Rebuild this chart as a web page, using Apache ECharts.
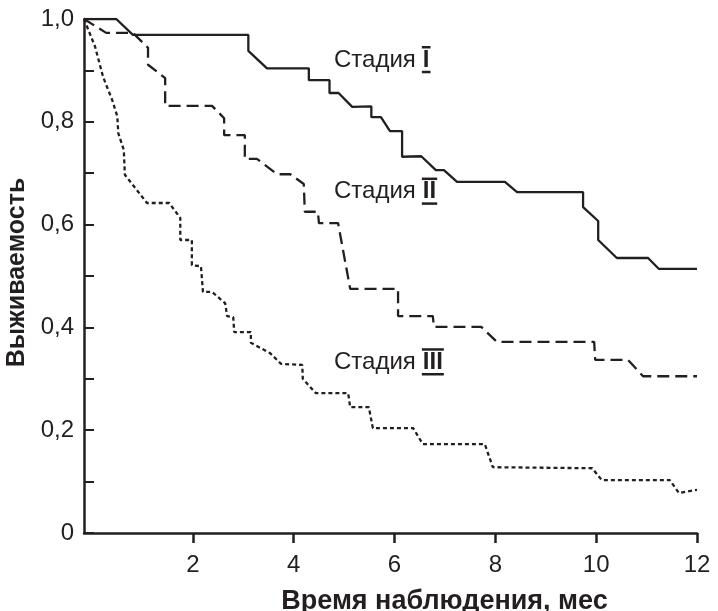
<!DOCTYPE html>
<html><head><meta charset="utf-8">
<script src="https://cdn.jsdelivr.net/npm/echarts@6/dist/echarts.min.js"></script>
<style>html,body{margin:0;padding:0;background:#fff}#c{width:718px;height:611px}</style>
</head><body><div id="c"></div>
<script>
// ---- data ----
const xTicks = [2, 4, 6, 8, 10, 12];
const stageWord = 'Стадия';
const stageNumerals = ['I', 'II', 'III'];

const stage1Time = [-0.16,0.48,0.81,3.10,3.10,3.47,4.30,4.30,4.71,4.71,4.89,5.16,5.54,5.54,5.73,5.91,6.15,6.15,6.53,6.82,6.98,7.24,8.19,8.43,9.74,9.74,10.04,10.04,10.41,11.03,11.24,12.0];
const stage1Surv = [1.0,1.0,0.969,0.969,0.938,0.904,0.904,0.881,0.881,0.856,0.856,0.829,0.830,0.809,0.809,0.782,0.782,0.732,0.733,0.706,0.706,0.683,0.683,0.663,0.663,0.634,0.607,0.570,0.535,0.535,0.514,0.514];

const stage2Time = [-0.16,0.28,0.81,1.11,1.11,1.45,1.45,2.38,2.62,2.62,3.03,3.03,3.27,3.67,3.93,4.20,4.22,4.48,4.50,4.88,5.12,6.07,6.07,6.76,6.78,7.72,8.03,9.96,9.98,10.63,10.93,12.0];
const stage2Surv = [1.0,0.973,0.973,0.944,0.911,0.885,0.831,0.831,0.807,0.774,0.774,0.728,0.728,0.698,0.698,0.679,0.625,0.625,0.603,0.603,0.475,0.475,0.422,0.422,0.401,0.401,0.372,0.372,0.337,0.337,0.305,0.305];

const stage3Time = [-0.16,0.06,0.22,0.40,0.50,0.52,0.63,0.65,1.09,1.53,1.75,1.75,1.98,1.98,2.16,2.20,2.38,2.64,2.68,2.80,2.82,3.15,3.15,3.53,3.75,4.17,4.18,4.44,5.08,5.12,5.49,5.57,6.37,6.56,7.79,7.95,9.92,10.11,11.46,11.64,12.0];
const stage3Surv = [1.0,0.946,0.887,0.842,0.811,0.778,0.745,0.697,0.642,0.642,0.613,0.570,0.570,0.521,0.519,0.469,0.469,0.447,0.422,0.420,0.391,0.391,0.370,0.350,0.329,0.327,0.300,0.272,0.272,0.245,0.245,0.204,0.204,0.173,0.173,0.128,0.126,0.103,0.103,0.078,0.084];

// ---- layout / style ----
const ink = '#231f20';
const font = 'Liberation Sans';
const xMin = -0.16;
const labelAnchors = [[4.8, 0.92], [4.8, 0.664], [4.8, 0.332]];
const labelSize = 24;

function zip(t, s) { return t.map((v, i) => [v, s[i]]); }

const chart = echarts.init(document.getElementById('c'), null, {renderer: 'canvas'});
const lineBase = {type: 'line', symbol: 'none', smooth: false, silent: true, animation: false};
chart.setOption({
  animation: false,
  backgroundColor: '#fff',
  grid: {left: 84, right: 21, top: 19, bottom: 78, containLabel: false, outerBoundsMode: 'none'},
  xAxis: {
    type: 'value', min: xMin, max: 12,
    name: 'Время наблюдения, мес', nameLocation: 'middle', nameGap: 55,
    nameTextStyle: {fontFamily: font, fontSize: 27, fontWeight: 'bold', color: ink, padding: [0, 0, 0, 108]},
    axisLine: {show: true, onZero: false, lineStyle: {color: ink, width: 2.5}},
    axisTick: {show: true, inside: false, length: 10, customValues: xTicks, lineStyle: {color: ink, width: 2.5}},
    axisLabel: {customValues: xTicks, margin: 20, fontFamily: font, fontSize: 24, color: ink},
    splitLine: {show: false}
  },
  yAxis: {
    type: 'value', min: 0, max: 1, interval: 0.1,
    name: 'Выживаемость', nameLocation: 'middle', nameGap: 52, nameRotate: 90,
    nameTextStyle: {fontFamily: font, fontSize: 25, fontWeight: 'bold', color: ink, padding: [0, 0, 0, 7]},
    axisLine: {show: true, onZero: false, lineStyle: {color: ink, width: 2.5}},
    axisTick: {show: true, inside: true, length: 10, lineStyle: {color: ink, width: 2}},
    axisLabel: {
      margin: 10, fontFamily: font, fontSize: 24, color: ink,
      formatter: v => {
        const k = Math.round(v * 10);
        if (k % 2) return '';
        if (k === 0) return '0';
        return (k / 10).toFixed(1).replace('.', ',');
      }
    },
    splitLine: {show: false}
  },
  series: [
    Object.assign({}, lineBase, {name: 'I', data: zip(stage1Time, stage1Surv), lineStyle: {color: ink, width: 2.3, type: 'solid'}}),
    Object.assign({}, lineBase, {name: 'II', data: zip(stage2Time, stage2Surv), lineStyle: {color: ink, width: 2.3, type: [12, 6]}}),
    Object.assign({}, lineBase, {name: 'III', data: zip(stage3Time, stage3Surv), lineStyle: {color: ink, width: 2.3, type: [4, 3]}})
  ]
});

// stage labels: word + roman numeral with over/under bars
const mctx = document.createElement('canvas').getContext('2d');
function measure(txt, f) { mctx.font = f; return mctx.measureText(txt).width; }
const wordFont = labelSize + 'px "' + font + '"';
const numFont = 'bold ' + labelSize + 'px "' + font + '"';
const wordW = measure(stageWord, wordFont);
const capH = labelSize * 0.72;

const graphics = labelAnchors.map((a, i) => {
  const p = chart.convertToPixel({gridIndex: 0}, a);
  const nx = wordW + 7;
  const nw = measure(stageNumerals[i], numFont);
  return {
    type: 'group', x: p[0], y: p[1], silent: true,
    children: [
      {type: 'text', x: 0, y: 0, style: {text: stageWord, font: wordFont, fill: ink, verticalAlign: 'middle', align: 'left'}},
      {type: 'text', x: nx, y: 0, style: {text: stageNumerals[i], font: numFont, fill: ink, verticalAlign: 'middle', align: 'left'}},
      {type: 'rect', shape: {x: nx - 1, y: -capH / 2 - 5.5, width: nw + 2, height: 2.5}, style: {fill: ink}},
      {type: 'rect', shape: {x: nx - 1, y: capH / 2 + 2, width: nw + 2, height: 2.5}, style: {fill: ink}}
    ]
  };
});
chart.setOption({graphic: graphics});
</script>
</body></html>
